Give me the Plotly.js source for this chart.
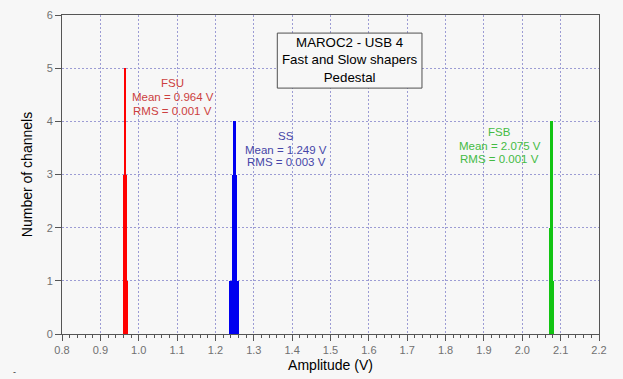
<!DOCTYPE html>
<html>
<head>
<meta charset="utf-8">
<script src="https://cdn.plot.ly/plotly-3.0.1.min.js"></script>
<style>
  html, body { margin: 0; padding: 0; background: #f7f7f7; }
  #chart { width: 623px; height: 379px; }
</style>
</head>
<body>
<div id="chart"></div>
<script>
// Pedestal histograms of the three shapers (amplitude bin centre in V, channel count)
const fsuAmp = [0.9610, 0.9635, 0.9660, 0.9685];
const fsuCount = [3, 5, 3, 1];

const ssAmp = [1.2375, 1.2400, 1.2425, 1.2450, 1.2475, 1.2500, 1.2525, 1.2550, 1.2575, 1.2600];
const ssCount = [1, 1, 1, 3, 4, 4, 3, 1, 1, 1];

const fsbAmp = [2.0715, 2.0740, 2.0765, 2.0790];
const fsbCount = [2, 4, 4, 1];

// Per-shaper statistics shown next to each peak
const shaperNames = ['FSU', 'SS', 'FSB'];
const shaperMeans = ['0.964', '1.249', '2.075'];
const shaperRms = ['0.001', '0.003', '0.001'];

// Axis ticks
const xTickVals = [0.8, 0.9, 1.0, 1.1, 1.2, 1.3, 1.4, 1.5, 1.6, 1.7, 1.8, 1.9, 2.0, 2.1, 2.2];
const xTickText = ['0.8', '0.9', '1.0', '1.1', '1.2', '1.3', '1.4', '1.5', '1.6', '1.7', '1.8', '1.9', '2.0', '2.1', '2.2'];
const yTickVals = [0, 1, 2, 3, 4, 5, 6];

// Title box lines
const boxLines = ['MAROC2 - USB 4', 'Fast and Slow shapers', 'Pedestal'];

const binWidth = 0.0025;
const barColors = ['#ff0000', '#0000f0', '#12c412'];
const textColors = ['#cc4040', '#4646a8', '#44bb44'];
const font = 'Arial, "Liberation Sans", sans-serif';

function histTrace(x, y, color) {
  return {
    type: 'bar', x: x, y: y, width: binWidth,
    marker: { color: color, line: { width: 0 } },
    hoverinfo: 'skip', showlegend: false
  };
}

const data = [
  histTrace(fsuAmp, fsuCount, barColors[0]),
  histTrace(ssAmp, ssCount, barColors[1]),
  histTrace(fsbAmp, fsbCount, barColors[2])
];

// Label anchor positions (data units) for each shaper block
const labelX = [1.089, 1.384, 1.941];
const labelY = [[4.72, 4.45, 4.20], [3.73, 3.46, 3.23], [3.80, 3.54, 3.30]];

const annotations = [];
shaperNames.forEach(function (name, i) {
  const lines = [name, 'Mean = ' + shaperMeans[i] + ' V', 'RMS = ' + shaperRms[i] + ' V'];
  lines.forEach(function (t, j) {
    annotations.push({
      x: labelX[i], y: labelY[i][j], xref: 'x', yref: 'y',
      text: t, showarrow: false, xanchor: 'center', yanchor: 'middle',
      font: { family: font, size: 11.5, color: textColors[i] }
    });
  });
});

// Framed title block inside the plot
annotations.push({
  x: 1.5499, y: 5.145, xref: 'x', yref: 'y',
  text: boxLines.join('<br>'), showarrow: false, xanchor: 'center', yanchor: 'middle',
  align: 'center',
  font: { family: font, size: 13.3, color: '#000000' }
});

// small dash in the lower-left corner
annotations.push({
  x: -0.089, y: -0.141, xref: 'paper', yref: 'paper', xanchor: 'center', yanchor: 'bottom',
  text: '-', showarrow: false, font: { family: font, size: 9, color: '#333333' }
});

const layout = {
  width: 623, height: 379,
  margin: { l: 62, r: 23.5, t: 15, b: 45 },
  paper_bgcolor: '#f7f7f7',
  plot_bgcolor: '#f7f7f7',
  barmode: 'overlay',
  bargap: 0,
  showlegend: false,
  font: { family: font },
  xaxis: {
    range: [0.8, 2.2],
    tickmode: 'array', tickvals: xTickVals, ticktext: xTickText,
    ticks: 'outside', ticklen: 6, tickwidth: 1, tickcolor: '#555555',
    tickfont: { family: font, size: 11, color: '#707070' },
    showline: true, linecolor: '#555555', linewidth: 1, mirror: true,
    showgrid: true, gridcolor: '#9c9cd4', gridwidth: 1, griddash: '2px,2px',
    zeroline: false,
    minor: { dtick: 0.02, tick0: 0.8, ticks: 'outside', ticklen: 3, tickcolor: '#555555', showgrid: false },
    title: { text: 'Amplitude (V)', font: { family: font, size: 14, color: '#000000' }, standoff: 4 }
  },
  yaxis: {
    range: [0, 6],
    tickmode: 'array', tickvals: yTickVals,
    ticks: 'outside', ticklen: 6, tickwidth: 1, tickcolor: '#555555',
    tickfont: { family: font, size: 11, color: '#707070' },
    showline: true, linecolor: '#555555', linewidth: 1, mirror: true,
    showgrid: true, gridcolor: '#9c9cd4', gridwidth: 1, griddash: '2px,2px',
    zeroline: false,
    title: { text: 'Number of channels', font: { family: font, size: 14, color: '#000000' }, standoff: 10 }
  },
  shapes: [{
    type: 'rect', xref: 'x', yref: 'y',
    x0: 1.3613, x1: 1.7385, y0: 4.625, y1: 5.66,
    line: { color: '#505050', width: 1 },
    fillcolor: '#f7f7f7', layer: 'above'
  }],
  annotations: annotations
};

Plotly.newPlot('chart', data, layout, { displayModeBar: false });
</script>
</body>
</html>
